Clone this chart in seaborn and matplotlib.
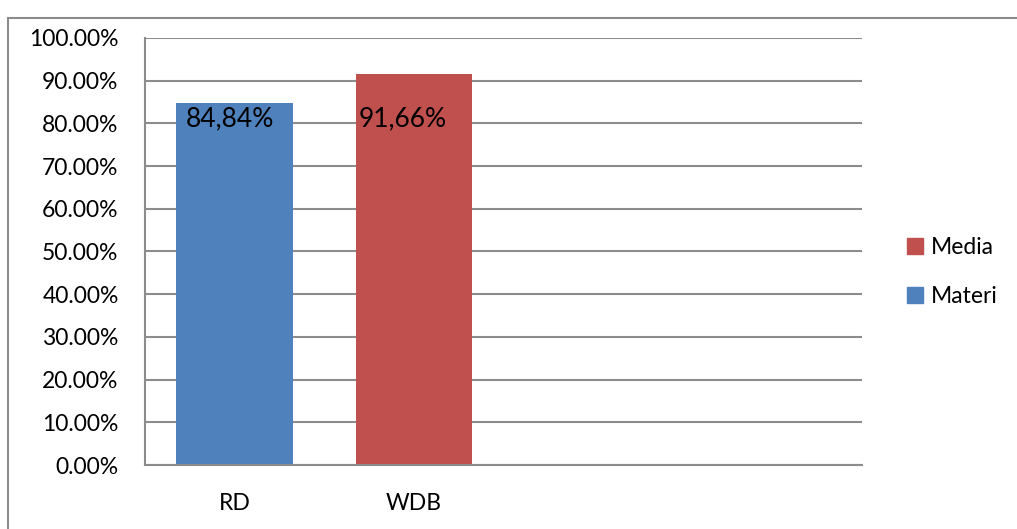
import numpy as np
import pandas as pd
import seaborn as sns
import matplotlib.pyplot as plt
from matplotlib.patches import Rectangle

# data
categories = ["RD", "WDB"]
series = ["Materi", "Media"]
values = [84.84, 91.66]
value_labels = ["84,84%", "91,66%"]
slots = ["RD", "WDB", " ", "  "]  # excel left two empty category slots
yticks = [0, 10, 20, 30, 40, 50, 60, 70, 80, 90, 100]

colors = {"Materi": "#4F81BD", "Media": "#C0504D"}

sns.set_theme(style="white")
plt.rcParams['font.family'] = ['Lato', 'DejaVu Sans']
plt.rcParams['text.color'] = 'black'

df = pd.DataFrame({"cat": categories, "series": series, "value": values})

fig = plt.figure(figsize=(10.17, 5.29), dpi=100)
ax = fig.add_axes([145 / 1017, 64 / 529, 717 / 1017, 427 / 529])

sns.barplot(data=df, x="cat", y="value", hue="series", order=slots,
            palette=colors, dodge=False, width=0.65, saturation=1,
            linewidth=0, legend=False, ax=ax)

ax.set_xlim(-0.5, 3.5)
ax.set_ylim(0, 100)
ax.set_yticks(yticks)
ax.set_yticklabels([f"{t:.2f}%" for t in yticks])
ax.set_xlabel("")
ax.set_ylabel("")
ax.yaxis.grid(True, color="#8c8c8c", linewidth=1.5)
ax.set_axisbelow(True)
for s in ["top", "right"]:
    ax.spines[s].set_visible(False)
for s in ["left", "bottom"]:
    ax.spines[s].set_color("#8c8c8c")
    ax.spines[s].set_linewidth(1.5)
ax.tick_params(axis="both", length=0, labelsize=16.5, colors="black")
ax.tick_params(axis="y", pad=19)
ax.tick_params(axis="x", pad=20)

# data labels near the top inside each bar
offsets = [0.05, 0.017]
bars = [p for p in ax.patches if p.get_height() > 0]
bars = sorted(bars, key=lambda p: p.get_x())
for bar, lab, off in zip(bars, value_labels, offsets):
    ax.text(bar.get_x() + off, 81.1, lab, ha="left", va="center",
            fontsize=19, color="black")

# legend (Media listed above Materi)
handles = [Rectangle((0, 0), 1, 1, color=colors[s]) for s in ["Media", "Materi"]]
fig.legend(handles, ["Media", "Materi"], loc="center left",
           bbox_to_anchor=(886 / 1017, 1 - 272 / 529), frameon=False,
           fontsize=16.5, handlelength=0.7, handleheight=0.7,
           handletextpad=0.35, labelspacing=1.2)

# outer chart border
fig.patches.append(Rectangle((8 / 1017, -0.05), 1.1, 1 - 18 / 529 + 0.05,
                             transform=fig.transFigure, fill=False,
                             edgecolor="#8c8c8c", linewidth=1.5))

fig.savefig("out.png", dpi=100)
